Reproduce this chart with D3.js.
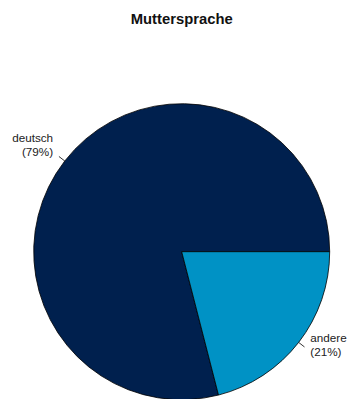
<!DOCTYPE html>
<html><head><meta charset="utf-8">
<script src="https://cdn.jsdelivr.net/npm/d3@7"></script>
<style>body{margin:0;background:#fff}</style>
</head><body>
<svg id="c" width="350" height="399"></svg>
<script>
const categories = ["deutsch", "andere"];
const values = [79, 21];
const colors = ["#00204e", "#0092c5"];
const title = "Muttersprache";

const svg = d3.select("#c");
const cx = 181.7, cy = 251.7, r = 148;

svg.append("text").attr("x", 181.7).attr("y", 24).attr("text-anchor", "middle")
  .attr("font-family", "Liberation Sans, Arial, sans-serif").attr("font-weight", "bold")
  .attr("font-size", 14.8).attr("fill", "#111").text(title);

const data = categories.map((c, i) => ({cat: c, value: values[i], color: colors[i]}));
const total = d3.sum(values);
const pie = d3.pie().value(d => d.value).sort(null)
  .startAngle(Math.PI / 2).endAngle(Math.PI / 2 - 2 * Math.PI);
const arcs = pie(data);
const arc = d3.arc().innerRadius(0).outerRadius(r);

const g = svg.append("g").attr("transform", `translate(${cx},${cy})`);
g.selectAll("path").data(arcs).enter().append("path")
  .attr("d", arc).attr("fill", d => d.data.color)
  .attr("stroke", "#000").attr("stroke-width", 0.8);

arcs.forEach(a => {
  const m = (a.startAngle + a.endAngle) / 2;
  const sx = Math.sin(m), sy = -Math.cos(m);
  g.append("line").attr("x1", r * sx).attr("y1", r * sy)
    .attr("x2", 1.05 * r * sx).attr("y2", 1.05 * r * sy)
    .attr("stroke", "#000").attr("stroke-width", 0.8);
  const lx = 1.1 * r * sx, ly = 1.1 * r * sy;
  const t = g.append("text").attr("x", lx).attr("y", ly)
    .attr("text-anchor", sx < 0 ? "end" : "start")
    .attr("font-family", "Liberation Sans, Arial, sans-serif").attr("font-size", 11.7)
    .attr("fill", "#222");
  const pct = Math.round(a.data.value / total * 100);
  t.append("tspan").attr("x", lx).attr("y", ly - 9.5).text(a.data.cat);
  t.append("tspan").attr("x", lx).attr("y", ly + 4.5).text("(" + pct + "%)");
});
</script>
</body></html>
